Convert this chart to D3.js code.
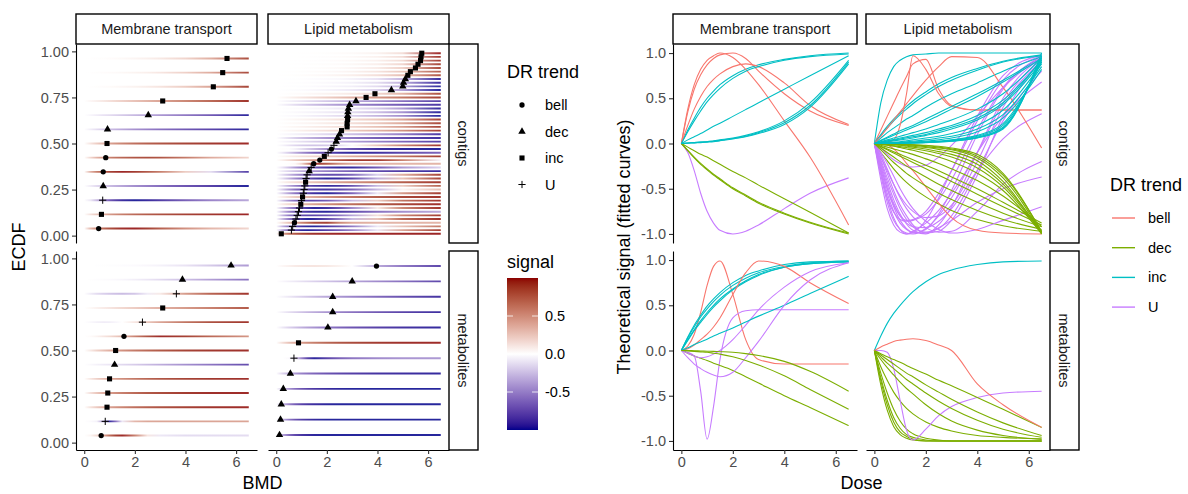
<!DOCTYPE html>
<html>
<head>
<meta charset="utf-8">
<script src="https://cdn.jsdelivr.net/npm/d3@7"></script>
<style>
  body { margin: 0; background: #fff; }
  text { font-family: "Liberation Sans", Arial, sans-serif; }
</style>
</head>
<body>
<svg id="chart" width="1188" height="494"></svg>
<script>
const doseGrid = [0, 0.25, 0.5, 0.75, 1, 1.25, 1.5, 2, 2.5, 3, 4, 5, 6.5];
const groups = ['Membrane transport', 'Lipid metabolism'];
const experiments = ['contigs', 'metabolites'];
const trends = ['bell', 'dec', 'inc', 'U'];
const trendColors = ['#F8766D', '#7CAE00', '#00BFC4', '#C77CFF'];
const doseTicks = [0, 2, 4, 6];
const ecdfTicks = [0, 0.25, 0.5, 0.75, 1];
const signalTicks = [-1, -0.5, 0, 0.5, 1];
const colorbarTicks = [0.5, 0, -0.5];

// Membrane transport - contigs (sorted by BMD)
const mtContigsBmd = [0.57, 0.68, 0.73, 0.75, 0.75, 0.85, 0.9, 0.92, 2.53, 3.1, 5.1, 5.47, 5.64];
const mtContigsTrend = ['bell', 'inc', 'U', 'dec', 'bell', 'bell', 'inc', 'dec', 'dec', 'inc', 'inc', 'inc', 'inc'];
const mtContigsSignal = [
  [0, 0.35, 0.6, 0.76, 0.87, 0.94, 0.98, 1.0, 0.94, 0.8, 0.55, 0.36, 0.2],
  [0, 0.15, 0.28, 0.4, 0.5, 0.58, 0.65, 0.75, 0.82, 0.87, 0.93, 0.97, 1.0],
  [0, -0.1, -0.3, -0.55, -0.75, -0.88, -0.96, -1.0, -0.97, -0.9, -0.72, -0.55, -0.38],
  [0, -0.08, -0.16, -0.23, -0.29, -0.35, -0.4, -0.5, -0.58, -0.66, -0.78, -0.88, -1.0],
  [0, 0.38, 0.65, 0.82, 0.92, 0.97, 1.0, 0.95, 0.82, 0.65, 0.25, -0.15, -0.9],
  [0, 0.2, 0.38, 0.52, 0.63, 0.71, 0.77, 0.85, 0.88, 0.85, 0.67, 0.42, 0.21],
  [0, 0.13, 0.25, 0.36, 0.46, 0.54, 0.61, 0.72, 0.8, 0.85, 0.92, 0.96, 0.99],
  [0, -0.075, -0.15, -0.22, -0.28, -0.34, -0.39, -0.49, -0.57, -0.65, -0.77, -0.87, -0.99],
  [0, -0.04, -0.08, -0.12, -0.15, -0.19, -0.23, -0.31, -0.38, -0.46, -0.61, -0.76, -0.99],
  [0, 0.04, 0.075, 0.11, 0.15, 0.19, 0.225, 0.3, 0.375, 0.45, 0.6, 0.75, 0.97],
  [0, 0.005, 0.01, 0.015, 0.02, 0.03, 0.04, 0.06, 0.09, 0.13, 0.25, 0.45, 0.92],
  [0, 0.005, 0.01, 0.015, 0.02, 0.025, 0.035, 0.055, 0.08, 0.12, 0.23, 0.42, 0.9],
  [0, 0.003, 0.007, 0.01, 0.015, 0.02, 0.03, 0.05, 0.075, 0.11, 0.21, 0.4, 0.88]
];

// Lipid metabolism - contigs
const lipidContigsBmd = [0.2, 0.6, 0.65, 0.72, 0.78, 0.83, 0.88, 0.92, 0.97, 1.0,
  1.04, 1.07, 1.1, 1.13, 1.16, 1.18, 1.22, 1.3, 1.38, 1.48,
  1.72, 1.9, 2.05, 2.18, 2.28, 2.37, 2.42, 2.5, 2.58, 2.8,
  2.8, 2.82, 2.82, 2.83, 2.85, 2.9, 3.15, 3.55, 3.9, 4.55,
  5.0, 5.03, 5.1, 5.2, 5.3, 5.5, 5.6, 5.7, 5.72, 5.75];
const lipidContigsTrend = ['inc', 'U', 'U', 'bell', 'U', 'U', 'U', 'U', 'inc', 'U',
  'inc', 'U', 'U', 'U', 'inc', 'U', 'U', 'dec', 'U', 'bell',
  'bell', 'inc', 'U', 'bell', 'U', 'dec', 'dec', 'dec', 'inc', 'inc',
  'inc', 'inc', 'dec', 'dec', 'dec', 'dec', 'dec', 'inc', 'inc', 'dec',
  'dec', 'dec', 'dec', 'inc', 'inc', 'inc', 'inc', 'inc', 'inc', 'inc'];
const lipidContigsSignal = [
  [0, 0.45, 0.7, 0.85, 0.92, 0.96, 0.98, 0.99, 1, 1, 1, 1, 1],
  [0, -0.4, -0.72, -0.9, -0.98, -1, -0.97, -0.88, -0.74, -0.55, -0.1, 0.45, 0.94],
  [0, -0.35, -0.65, -0.85, -0.95, -0.99, -1, -0.94, -0.8, -0.6, -0.1, 0.3, 0.68],
  [0, 0.15, 0.3, 0.45, 0.6, 0.74, 0.88, 0.93, 0.6, 0.42, 0.37, 0.37, 0.37],
  [0, -0.3, -0.6, -0.82, -0.95, -1, -0.98, -0.85, -0.6, -0.3, 0.3, 0.75, 0.98],
  [0, -0.32, -0.6, -0.76, -0.84, -0.86, -0.85, -0.78, -0.62, -0.4, 0.15, 0.62, 0.95],
  [0, -0.28, -0.55, -0.75, -0.88, -0.95, -0.98, -0.99, -0.93, -0.85, -0.65, -0.5, -0.37],
  [0, -0.25, -0.5, -0.7, -0.85, -0.94, -0.99, -0.95, -0.78, -0.52, 0.1, 0.6, 0.97],
  [0, 0.1, 0.19, 0.27, 0.34, 0.41, 0.47, 0.57, 0.66, 0.73, 0.83, 0.91, 0.98],
  [0, -0.25, -0.5, -0.68, -0.8, -0.85, -0.84, -0.75, -0.55, -0.3, 0.25, 0.7, 0.97],
  [0, 0.09, 0.17, 0.25, 0.32, 0.38, 0.44, 0.54, 0.63, 0.7, 0.81, 0.9, 0.97],
  [0, -0.2, -0.42, -0.62, -0.78, -0.89, -0.96, -1, -0.9, -0.7, -0.1, 0.5, 0.95],
  [0, -0.22, -0.46, -0.66, -0.8, -0.88, -0.92, -0.93, -0.86, -0.72, -0.3, 0.05, 0.33],
  [0, -0.18, -0.38, -0.56, -0.72, -0.84, -0.92, -0.98, -0.94, -0.8, -0.3, 0.25, 0.8],
  [0, 0.06, 0.12, 0.17, 0.22, 0.27, 0.31, 0.4, 0.48, 0.55, 0.67, 0.8, 0.96],
  [0, -0.15, -0.33, -0.52, -0.68, -0.8, -0.9, -0.99, -0.97, -0.85, -0.35, 0.3, 0.93],
  [0, -0.15, -0.3, -0.45, -0.58, -0.68, -0.75, -0.82, -0.8, -0.68, -0.2, 0.4, 0.92],
  [0, -0.1, -0.19, -0.28, -0.36, -0.43, -0.49, -0.59, -0.67, -0.74, -0.84, -0.91, -0.97],
  [0, -0.12, -0.28, -0.45, -0.6, -0.72, -0.81, -0.93, -0.98, -0.97, -0.75, -0.45, -0.2],
  [0, 0, 0.01, 0.04, 0.2, 0.55, 0.97, 0.82, 0.55, 0.41, 0.37, 0.37, 0.37],
  [0, 0.08, 0.17, 0.26, 0.35, 0.44, 0.53, 0.7, 0.85, 0.96, 0.95, 0.62, -0.05],
  [0, 0.035, 0.07, 0.105, 0.14, 0.17, 0.2, 0.27, 0.34, 0.41, 0.55, 0.7, 0.95],
  [0, -0.1, -0.22, -0.36, -0.5, -0.62, -0.72, -0.86, -0.95, -0.99, -0.95, -0.85, -0.7],
  [0, 0.01, -0.01, -0.06, -0.13, -0.22, -0.3, -0.48, -0.66, -0.82, -0.96, -0.99, -1],
  [0, -0.05, -0.12, -0.18, -0.22, -0.25, -0.26, -0.24, -0.15, -0.02, 0.3, 0.62, 0.96],
  [0, -0.035, -0.07, -0.105, -0.14, -0.175, -0.21, -0.28, -0.35, -0.42, -0.56, -0.7, -0.9],
  [0, -0.07, -0.14, -0.21, -0.27, -0.33, -0.38, -0.47, -0.55, -0.62, -0.74, -0.84, -0.95],
  [0, -0.02, -0.04, -0.06, -0.08, -0.1, -0.12, -0.17, -0.22, -0.28, -0.41, -0.58, -0.92],
  [0, 0.02, 0.04, 0.06, 0.08, 0.1, 0.12, 0.16, 0.21, 0.26, 0.38, 0.55, 0.95],
  [0, 0.015, 0.03, 0.045, 0.06, 0.075, 0.09, 0.12, 0.16, 0.2, 0.31, 0.48, 0.92],
  [0, 0.01, 0.02, 0.03, 0.04, 0.05, 0.06, 0.09, 0.12, 0.16, 0.26, 0.43, 0.9],
  [0, 0.012, 0.025, 0.038, 0.05, 0.063, 0.075, 0.1, 0.14, 0.18, 0.28, 0.45, 0.93],
  [0, -0.01, -0.02, -0.03, -0.045, -0.06, -0.075, -0.11, -0.15, -0.2, -0.33, -0.52, -1.0],
  [0, -0.008, -0.016, -0.025, -0.035, -0.045, -0.055, -0.08, -0.11, -0.15, -0.27, -0.48, -0.99],
  [0, -0.005, -0.01, -0.015, -0.02, -0.03, -0.04, -0.06, -0.09, -0.12, -0.23, -0.45, -0.98],
  [0, -0.05, -0.1, -0.15, -0.2, -0.25, -0.29, -0.37, -0.45, -0.52, -0.65, -0.77, -0.92],
  [0, -0.03, -0.06, -0.09, -0.12, -0.15, -0.18, -0.24, -0.3, -0.37, -0.5, -0.65, -0.88],
  [0, 0.03, 0.06, 0.09, 0.12, 0.15, 0.18, 0.24, 0.31, 0.38, 0.52, 0.68, 0.94],
  [0, 0.005, 0.01, 0.015, 0.02, 0.03, 0.04, 0.06, 0.08, 0.11, 0.2, 0.37, 0.88],
  [0, -0.004, -0.008, -0.012, -0.016, -0.02, -0.03, -0.045, -0.065, -0.09, -0.19, -0.42, -1.0],
  [0, -0.003, -0.006, -0.009, -0.012, -0.016, -0.02, -0.035, -0.05, -0.07, -0.16, -0.38, -0.99],
  [0, -0.002, -0.004, -0.006, -0.008, -0.011, -0.015, -0.025, -0.04, -0.06, -0.14, -0.35, -0.97],
  [0, -0.002, -0.003, -0.005, -0.007, -0.01, -0.013, -0.02, -0.03, -0.05, -0.12, -0.33, -0.98],
  [0, 0.003, 0.006, 0.01, 0.014, 0.02, 0.025, 0.04, 0.06, 0.08, 0.16, 0.32, 0.85],
  [0, 0.002, 0.004, 0.006, 0.009, 0.012, 0.016, 0.025, 0.04, 0.06, 0.13, 0.28, 0.82],
  [0, 0.001, 0.002, 0.004, 0.006, 0.008, 0.01, 0.016, 0.025, 0.04, 0.09, 0.22, 0.9],
  [0, 0.001, 0.002, 0.003, 0.005, 0.007, 0.009, 0.014, 0.022, 0.035, 0.08, 0.2, 0.92],
  [0, 0.001, 0.002, 0.003, 0.004, 0.006, 0.008, 0.012, 0.02, 0.03, 0.07, 0.18, 0.95],
  [0, 0.001, 0.001, 0.002, 0.003, 0.005, 0.007, 0.011, 0.018, 0.028, 0.065, 0.17, 0.97],
  [0, 0, 0.001, 0.002, 0.003, 0.004, 0.006, 0.01, 0.016, 0.025, 0.06, 0.16, 1.0]
];

// Membrane transport - metabolites
const mtMetabBmd = [0.67, 0.83, 0.9, 0.93, 1.0, 1.2, 1.24, 1.57, 2.3, 3.1, 3.64, 3.88, 5.8];
const mtMetabTrend = ['bell', 'U', 'inc', 'inc', 'inc', 'dec', 'inc', 'bell', 'U', 'inc', 'U', 'dec', 'dec'];
const mtMetabSignal = [
  [0, 0.05, 0.18, 0.42, 0.72, 0.93, 0.99, 0.62, 0.12, -0.1, -0.15, -0.15, -0.15],
  [0, -0.02, -0.06, -0.45, -0.98, -0.62, -0.1, 0.36, 0.44, 0.45, 0.45, 0.45, 0.45],
  [0, 0.14, 0.26, 0.37, 0.46, 0.54, 0.61, 0.72, 0.8, 0.86, 0.93, 0.97, 0.99],
  [0, 0.15, 0.28, 0.39, 0.49, 0.57, 0.64, 0.75, 0.83, 0.88, 0.95, 0.98, 0.99],
  [0, 0.12, 0.23, 0.33, 0.42, 0.5, 0.57, 0.68, 0.77, 0.84, 0.92, 0.96, 0.98],
  [0, -0.03, -0.06, -0.085, -0.11, -0.14, -0.165, -0.22, -0.29, -0.36, -0.5, -0.63, -0.83],
  [0, 0.11, 0.22, 0.31, 0.4, 0.48, 0.55, 0.67, 0.76, 0.83, 0.92, 0.96, 0.98],
  [0, 0.02, 0.06, 0.12, 0.18, 0.26, 0.36, 0.62, 0.86, 0.99, 0.93, 0.75, 0.52],
  [0, -0.03, -0.06, -0.08, -0.07, -0.04, 0.0, 0.12, 0.28, 0.45, 0.7, 0.87, 0.97],
  [0, 0.03, 0.065, 0.095, 0.125, 0.16, 0.19, 0.25, 0.315, 0.38, 0.5, 0.63, 0.82],
  [0, -0.08, -0.15, -0.2, -0.24, -0.27, -0.29, -0.24, -0.08, 0.1, 0.5, 0.78, 0.97],
  [0, -0.005, -0.01, -0.015, -0.02, -0.03, -0.04, -0.07, -0.11, -0.16, -0.28, -0.43, -0.65],
  [0, 0, -0.003, -0.005, -0.008, -0.01, -0.013, -0.02, -0.035, -0.055, -0.12, -0.23, -0.45]
];

// Lipid metabolism - metabolites
const lipidMetabBmd = [0.13, 0.17, 0.2, 0.28, 0.56, 0.7, 0.88, 2.04, 2.23, 2.23, 3.0, 3.96];
const lipidMetabTrend = ['dec', 'dec', 'dec', 'dec', 'dec', 'U', 'inc', 'dec', 'dec', 'dec', 'dec', 'bell'];
const lipidMetabSignal = [
  [0, -0.38, -0.66, -0.84, -0.93, -0.97, -0.99, -1, -1, -1, -1, -1, -1],
  [0, -0.33, -0.6, -0.79, -0.9, -0.95, -0.98, -1, -1, -1, -1, -1, -1],
  [0, -0.3, -0.55, -0.74, -0.86, -0.93, -0.96, -0.99, -1, -1, -1, -1, -1],
  [0, -0.25, -0.47, -0.65, -0.78, -0.87, -0.92, -0.97, -0.99, -1, -1, -1, -1],
  [0, -0.18, -0.33, -0.46, -0.56, -0.64, -0.7, -0.79, -0.85, -0.89, -0.94, -0.96, -0.98],
  [0, 0, -0.02, -0.2, -0.55, -0.88, -0.99, -0.87, -0.72, -0.62, -0.52, -0.47, -0.45],
  [0, 0.16, 0.3, 0.41, 0.5, 0.58, 0.65, 0.76, 0.84, 0.89, 0.95, 0.98, 0.99],
  [0, -0.1, -0.19, -0.27, -0.35, -0.42, -0.48, -0.6, -0.7, -0.78, -0.88, -0.94, -0.98],
  [0, -0.07, -0.14, -0.2, -0.26, -0.32, -0.37, -0.47, -0.56, -0.64, -0.77, -0.87, -0.96],
  [0, -0.05, -0.1, -0.15, -0.2, -0.25, -0.29, -0.38, -0.46, -0.54, -0.68, -0.8, -0.94],
  [0, -0.035, -0.07, -0.1, -0.13, -0.165, -0.2, -0.26, -0.33, -0.39, -0.52, -0.65, -0.85],
  [0, 0.04, 0.07, 0.1, 0.115, 0.125, 0.13, 0.11, 0.06, 0, -0.37, -0.6, -0.85]
];

// ------------------------------------------------------------------
const svg = d3.select('#chart');
const defs = svg.append('defs');

const leftCols = [[76, 257], [268, 449]];
const rightCols = [[673, 857], [866, 1050]];
const rowsY = [[44, 243], [251, 450]];
const doseDomain = [-0.325, 6.825];
const doseMax = doseGrid[doseGrid.length - 1];

const signalColor = d3.scaleLinear()
  .domain([-1, 0, 1])
  .range(['#00008B', '#FFFFFF', '#8B0000'])
  .interpolate(d3.interpolateLab)
  .clamp(true);
const trendColor = d3.scaleOrdinal().domain(trends).range(trendColors);

function buildItems(bmd, trend, signal) {
  const n = bmd.length;
  return bmd.map((b, i) => ({
    bmd: b,
    trend: trend[i],
    ecdf: (i + 0.5) / n,
    pts: doseGrid.map((d, j) => [d, signal[i][j]])
  }));
}

const panels = [
  {col: 0, row: 0, items: buildItems(mtContigsBmd, mtContigsTrend, mtContigsSignal)},
  {col: 1, row: 0, items: buildItems(lipidContigsBmd, lipidContigsTrend, lipidContigsSignal)},
  {col: 0, row: 1, items: buildItems(mtMetabBmd, mtMetabTrend, mtMetabSignal)},
  {col: 1, row: 1, items: buildItems(lipidMetabBmd, lipidMetabTrend, lipidMetabSignal)}
];

// point shapes like ggplot 16 / 17 / 15 / 3
function markerPath(t) {
  if (t === 'U') return 'M-3.6,0H3.6M0,-3.6V3.6';
  if (t === 'bell') return d3.symbol().type(d3.symbolCircle).size(22)();
  if (t === 'dec') return d3.symbol().type(d3.symbolTriangle).size(24)();
  return d3.symbol().type(d3.symbolSquare).size(26)();
}
function styleMarker(sel) {
  sel.attr('fill', d => d.trend === 'U' ? 'none' : '#000')
    .attr('stroke', d => d.trend === 'U' ? '#000' : 'none')
    .attr('stroke-width', 1);
}

function styleAxis(g) {
  g.attr('font-size', null).attr('font-family', null);
  g.select('.domain').attr('stroke', '#000').attr('stroke-width', 1.1);
  g.selectAll('.tick line').attr('stroke', '#333').attr('stroke-width', 1.1);
  g.selectAll('.tick text').attr('fill', '#4D4D4D').style('font-size', '14.5px');
}

function strips(cols, stripX) {
  cols.forEach((c, i) => {
    svg.append('rect').attr('x', c[0]).attr('y', 14).attr('width', c[1] - c[0]).attr('height', 30)
      .attr('fill', '#fff').attr('stroke', '#000').attr('stroke-width', 1.4);
    svg.append('text').attr('x', (c[0] + c[1]) / 2).attr('y', 29).attr('dy', '0.35em')
      .attr('text-anchor', 'middle').attr('fill', '#1A1A1A').style('font-size', '14.5px')
      .text(groups[i]);
  });
  rowsY.forEach((r, i) => {
    svg.append('rect').attr('x', stripX).attr('y', r[0]).attr('width', 29).attr('height', r[1] - r[0])
      .attr('fill', '#fff').attr('stroke', '#000').attr('stroke-width', 1.4);
    svg.append('text')
      .attr('transform', `translate(${stripX + 14.5}, ${(r[0] + r[1]) / 2}) rotate(90)`)
      .attr('dy', '0.35em').attr('text-anchor', 'middle').attr('fill', '#1A1A1A')
      .style('font-size', '14.5px').text(experiments[i]);
  });
}

// ---------------- left plot: BMD with signal gradient ----------------
panels.forEach(p => {
  const [x0, x1] = leftCols[p.col];
  const [y0, y1] = rowsY[p.row];
  const x = d3.scaleLinear().domain(doseDomain).range([x0, x1]);
  const y = d3.scaleLinear().domain([-0.04, 1.04]).range([y1, y0]);
  const g = svg.append('g');

  p.items.forEach((d, i) => {
    const id = `grad-${p.col}-${p.row}-${i}`;
    const lg = defs.append('linearGradient').attr('id', id)
      .attr('gradientUnits', 'userSpaceOnUse')
      .attr('x1', x(0)).attr('x2', x(doseMax)).attr('y1', 0).attr('y2', 0);
    lg.selectAll('stop').data(d.pts).enter().append('stop')
      .attr('offset', s => s[0] / doseMax)
      .attr('stop-color', s => signalColor(s[1]));
    g.append('line')
      .attr('x1', x(0)).attr('x2', x(doseMax))
      .attr('y1', y(d.ecdf)).attr('y2', y(d.ecdf))
      .attr('stroke', `url(#${id})`).attr('stroke-width', 1.9)
      .attr('stroke-opacity', 0.85);
  });

  g.selectAll('path.pt').data(p.items).enter().append('path')
    .attr('class', 'pt')
    .attr('transform', d => `translate(${x(d.bmd)}, ${y(d.ecdf)})`)
    .attr('d', d => markerPath(d.trend))
    .call(styleMarker);

  if (p.col === 0) {
    svg.append('g').attr('transform', `translate(${x0}, 0)`)
      .call(d3.axisLeft(y).tickValues(ecdfTicks).tickFormat(v => v.toFixed(2)).tickSize(4).tickSizeOuter(0).tickPadding(3))
      .call(styleAxis);
  }
  if (p.row === 1) {
    svg.append('g').attr('transform', `translate(0, ${y1})`)
      .call(d3.axisBottom(x).tickValues(doseTicks).tickSize(4).tickSizeOuter(0).tickPadding(3))
      .call(styleAxis);
  }
});
strips(leftCols, 449);

svg.append('text').attr('transform', 'translate(19, 247) rotate(-90)')
  .attr('dy', '0.35em').attr('text-anchor', 'middle').style('font-size', '18px').text('ECDF');
svg.append('text').attr('x', (leftCols[0][0] + leftCols[1][1]) / 2).attr('y', 483)
  .attr('dy', '0.35em').attr('text-anchor', 'middle').style('font-size', '18px').text('BMD');

// left legends
const lgLeft = svg.append('g');
lgLeft.append('text').attr('x', 507).attr('y', 72).attr('dy', '0.35em').style('font-size', '18px').text('DR trend');
trends.forEach((t, i) => {
  const yy = 105 + i * 26.5;
  lgLeft.append('path').datum({trend: t})
    .attr('transform', `translate(522, ${yy})`).attr('d', markerPath(t)).call(styleMarker);
  lgLeft.append('text').attr('x', 545).attr('y', yy).attr('dy', '0.35em')
    .style('font-size', '14.5px').text(t);
});

lgLeft.append('text').attr('x', 507).attr('y', 262).attr('dy', '0.35em').style('font-size', '18px').text('signal');
const barY = d3.scaleLinear().domain([-1, 1]).range([430, 278]);
const barGrad = defs.append('linearGradient').attr('id', 'signalbar')
  .attr('x1', 0).attr('x2', 0).attr('y1', 1).attr('y2', 0);
barGrad.selectAll('stop').data(d3.ticks(-1, 1, 40)).enter().append('stop')
  .attr('offset', v => (v + 1) / 2).attr('stop-color', v => signalColor(v));
lgLeft.append('rect').attr('x', 507).attr('y', 278).attr('width', 31).attr('height', 152)
  .attr('fill', 'url(#signalbar)');
colorbarTicks.forEach(v => {
  lgLeft.append('line').attr('x1', 507).attr('x2', 513).attr('y1', barY(v)).attr('y2', barY(v))
    .attr('stroke', '#fff').attr('stroke-width', 0.8);
  lgLeft.append('line').attr('x1', 532).attr('x2', 538).attr('y1', barY(v)).attr('y2', barY(v))
    .attr('stroke', '#fff').attr('stroke-width', 0.8);
  lgLeft.append('text').attr('x', 545).attr('y', barY(v)).attr('dy', '0.35em')
    .style('font-size', '14.5px').text(v.toFixed(1));
});

// ---------------- right plot: theoretical fitted curves ----------------
panels.forEach(p => {
  const [x0, x1] = rightCols[p.col];
  const [y0, y1] = rowsY[p.row];
  const x = d3.scaleLinear().domain(doseDomain).range([x0, x1]);
  const y = d3.scaleLinear().domain([-1.1, 1.1]).range([y1, y0]);
  const line = d3.line().x(d => x(d[0])).y(d => y(d[1])).curve(d3.curveMonotoneX);

  svg.append('g').selectAll('path').data(p.items).enter().append('path')
    .attr('d', d => line(d.pts))
    .attr('fill', 'none')
    .attr('stroke', d => trendColor(d.trend))
    .attr('stroke-width', 1.1);

  if (p.col === 0) {
    svg.append('g').attr('transform', `translate(${x0}, 0)`)
      .call(d3.axisLeft(y).tickValues(signalTicks).tickFormat(v => v.toFixed(1)).tickSize(4).tickSizeOuter(0).tickPadding(3))
      .call(styleAxis);
  }
  if (p.row === 1) {
    svg.append('g').attr('transform', `translate(0, ${y1})`)
      .call(d3.axisBottom(x).tickValues(doseTicks).tickSize(4).tickSizeOuter(0).tickPadding(3))
      .call(styleAxis);
  }
});
strips(rightCols, 1050);

svg.append('text').attr('transform', 'translate(624, 247) rotate(-90)')
  .attr('dy', '0.35em').attr('text-anchor', 'middle').style('font-size', '18px')
  .text('Theoretical signal (fitted curves)');
svg.append('text').attr('x', (rightCols[0][0] + rightCols[1][1]) / 2).attr('y', 483)
  .attr('dy', '0.35em').attr('text-anchor', 'middle').style('font-size', '18px').text('Dose');

const lgRight = svg.append('g');
lgRight.append('text').attr('x', 1110).attr('y', 185).attr('dy', '0.35em').style('font-size', '18px').text('DR trend');
trends.forEach((t, i) => {
  const yy = 218 + i * 29.7;
  lgRight.append('line').attr('x1', 1112).attr('x2', 1135).attr('y1', yy).attr('y2', yy)
    .attr('stroke', trendColor(t)).attr('stroke-width', 1.4);
  lgRight.append('text').attr('x', 1148).attr('y', yy).attr('dy', '0.35em')
    .style('font-size', '14.5px').text(t);
});
</script>
</body>
</html>
